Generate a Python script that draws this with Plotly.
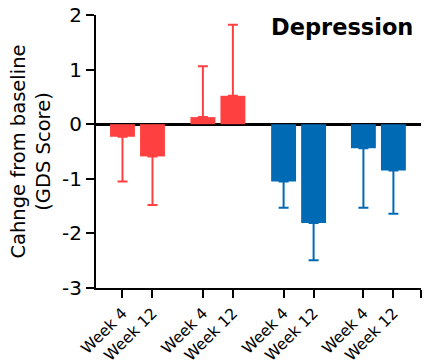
import plotly.graph_objects as go

categories = ["Week 4", "Week 12", "Week 4", "Week 12", "Week 4", "Week 12", "Week 4", "Week 12"]
positions = [0, 1, 2.68, 3.68, 5.37, 6.37, 8.03, 9.03]
values = [-0.23, -0.59, 0.13, 0.52, -1.05, -1.81, -0.44, -0.85]
errors = [0.82, 0.89, 0.93, 1.30, 0.48, 0.68, 1.09, 0.79]
colors = ["#FF4040", "#FF4040", "#FF4040", "#FF4040", "#006AB5", "#006AB5", "#006AB5", "#006AB5"]
title = "Depression"
y_title = "Cahnge from baseline<br>(GDS Score)"
y_ticks = [-3, -2, -1, 0, 1, 2]
y_ticktext = ["-3", "-2", "-1", "0", "1", "2"]

FONT = "DejaVu Sans"
fig = go.Figure()
for i in range(len(values)):
    v, e = values[i], errors[i]
    fig.add_trace(go.Bar(
        x=[positions[i]], y=[v], width=0.83,
        marker=dict(color=colors[i], line=dict(width=0)),
        error_y=dict(type="data", symmetric=False,
                     array=[e if v > 0 else 0], arrayminus=[e if v < 0 else 0],
                     color=colors[i], thickness=2, width=5),
        showlegend=False,
    ))

x_end = 9.95
fig.update_layout(
    width=424, height=362,
    margin=dict(l=96, r=3, t=15, b=74),
    plot_bgcolor="white", paper_bgcolor="white",
    font=dict(family=FONT, color="black"),
    annotations=[dict(text="<b>" + title + "</b>", x=(415 - 96) / 325.0, xref="paper", xanchor="right",
                      y=(288 - 27) / 273.0, yref="paper", yanchor="middle",
                      showarrow=False, font=dict(size=22.5, family=FONT, color="black"))],
)
fig.update_xaxes(
    range=[-0.883, x_end], automargin=False,
    tickvals=positions + [x_end], ticktext=categories + [""],
    tickangle=-45, tickfont=dict(size=15.5, family=FONT),
    ticks="outside", ticklen=8, tickwidth=2, tickcolor="black",
    showline=True, linecolor="black", linewidth=2, showgrid=False, zeroline=False,
)
fig.update_yaxes(
    range=[-3, 2], tickvals=y_ticks, ticktext=y_ticktext, automargin=False,
    tickfont=dict(size=20, family=FONT),
    ticks="outside", ticklen=8, tickwidth=2, tickcolor="black",
    showline=True, linecolor="black", linewidth=2, showgrid=False,
    zeroline=True, zerolinecolor="black", zerolinewidth=3,
    title=dict(text=y_title, font=dict(size=19.5, family=FONT), standoff=6),
)
fig.write_html("out.html", config={"displayModeBar": False},
               post_script="document.body.style.margin='0';document.body.style.padding='0';")
